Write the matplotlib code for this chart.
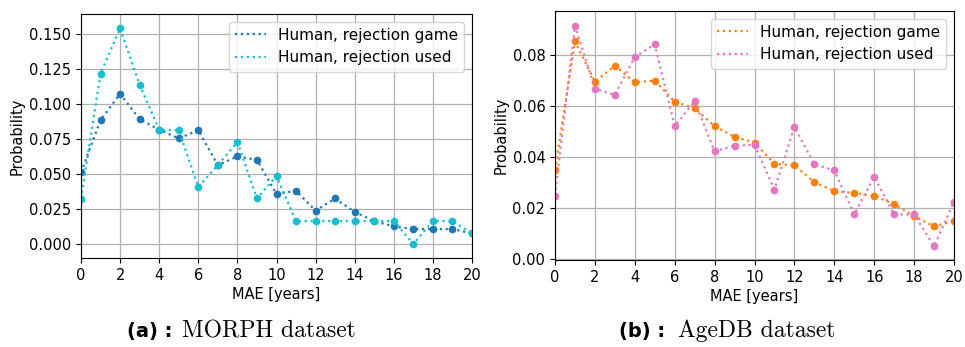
import numpy as np
import matplotlib.pyplot as plt

mae = np.arange(0, 21)

# (a) MORPH
morph_game = [0.0512, 0.0886, 0.1074, 0.0893, 0.0817, 0.0755, 0.0814, 0.0564, 0.0626, 0.0602,
              0.0357, 0.0381, 0.0238, 0.0326, 0.0229, 0.0164, 0.0126, 0.0107, 0.0107, 0.0107, 0.0076]
morph_used = [0.0324, 0.1219, 0.1543, 0.1138, 0.0817, 0.0814, 0.0407, 0.0564, 0.0729, 0.0326,
              0.0486, 0.0164, 0.0164, 0.0164, 0.0164, 0.0164, 0.0164, 0.0, 0.0164, 0.0164, 0.0076]

# (b) AgeDB
agedb_game = [0.0348, 0.0851, 0.0694, 0.0756, 0.0691, 0.0698, 0.0615, 0.0590, 0.0520, 0.0478,
              0.0456, 0.0373, 0.0367, 0.0301, 0.0266, 0.0259, 0.0248, 0.0215, 0.0169, 0.0128, 0.0149]
agedb_used = [0.0249, 0.0913, 0.0667, 0.0642, 0.0790, 0.0840, 0.0520, 0.0618, 0.0421, 0.0444,
              0.0447, 0.0272, 0.0517, 0.0371, 0.0347, 0.0175, 0.0322, 0.0175, 0.0175, 0.0051, 0.0224]

labels = ['Human, rejection game', 'Human, rejection used']

W, H = 965, 347
fig = plt.figure(figsize=(W / 100, H / 100), dpi=100)


def box(x0, y0, x1, y1):
    # pixel box (top-left origin) -> figure fraction
    return [x0 / W, 1 - y1 / H, (x1 - x0) / W, (y1 - y0) / H]


def panel(ax, game, used, colors, ylim, yticks, yfmt):
    for vals, c, lab in zip([game, used], colors, labels):
        ax.plot(mae, vals, ':', color=c, lw=1.6, label=lab)
        ax.plot(mae, vals, 'o', color=c, ms=4.5, lw=0)
    ax.set_xlim(0, 20)
    ax.set_ylim(*ylim)
    ax.set_xticks(np.arange(0, 21, 2))
    ax.set_yticks(yticks)
    ax.set_yticklabels([yfmt.format(v) for v in yticks])
    ax.tick_params(labelsize=10.5)
    ax.grid(True, color='#b0b0b0', lw=0.9)
    ax.set_axisbelow(True)
    ax.set_xlabel('MAE [years]', fontsize=10.5, labelpad=3)
    ax.set_ylabel('Probability', fontsize=10.5, labelpad=3)
    ax.legend(loc='upper right', fontsize=11)


ax1 = fig.add_axes(box(81, 14, 472, 258))
panel(ax1, morph_game, morph_used, ['#1f77b4', '#17becf'], (-0.0100, 0.1645),
      np.arange(0, 0.151, 0.025), '{:.3f}')

ax2 = fig.add_axes(box(555, 11, 954, 260))
panel(ax2, agedb_game, agedb_used, ['#ff7f0e', '#e377c2'], (-0.0003, 0.097),
      np.arange(0, 0.081, 0.02), '{:.2f}')

# subcaptions
fig.text(172 / W, 1 - 337 / H, '(a) :', ha='right', va='baseline', fontsize=14, fontweight='bold')
fig.text(182 / W, 1 - 337 / H, 'MORPH dataset', ha='left', va='baseline', fontsize=17, family='cmr10')
fig.text(665 / W, 1 - 337 / H, '(b) :', ha='right', va='baseline', fontsize=14, fontweight='bold')
fig.text(678 / W, 1 - 337 / H, 'AgeDB dataset', ha='left', va='baseline', fontsize=17, family='cmr10')

fig.savefig('out.png', dpi=100)
